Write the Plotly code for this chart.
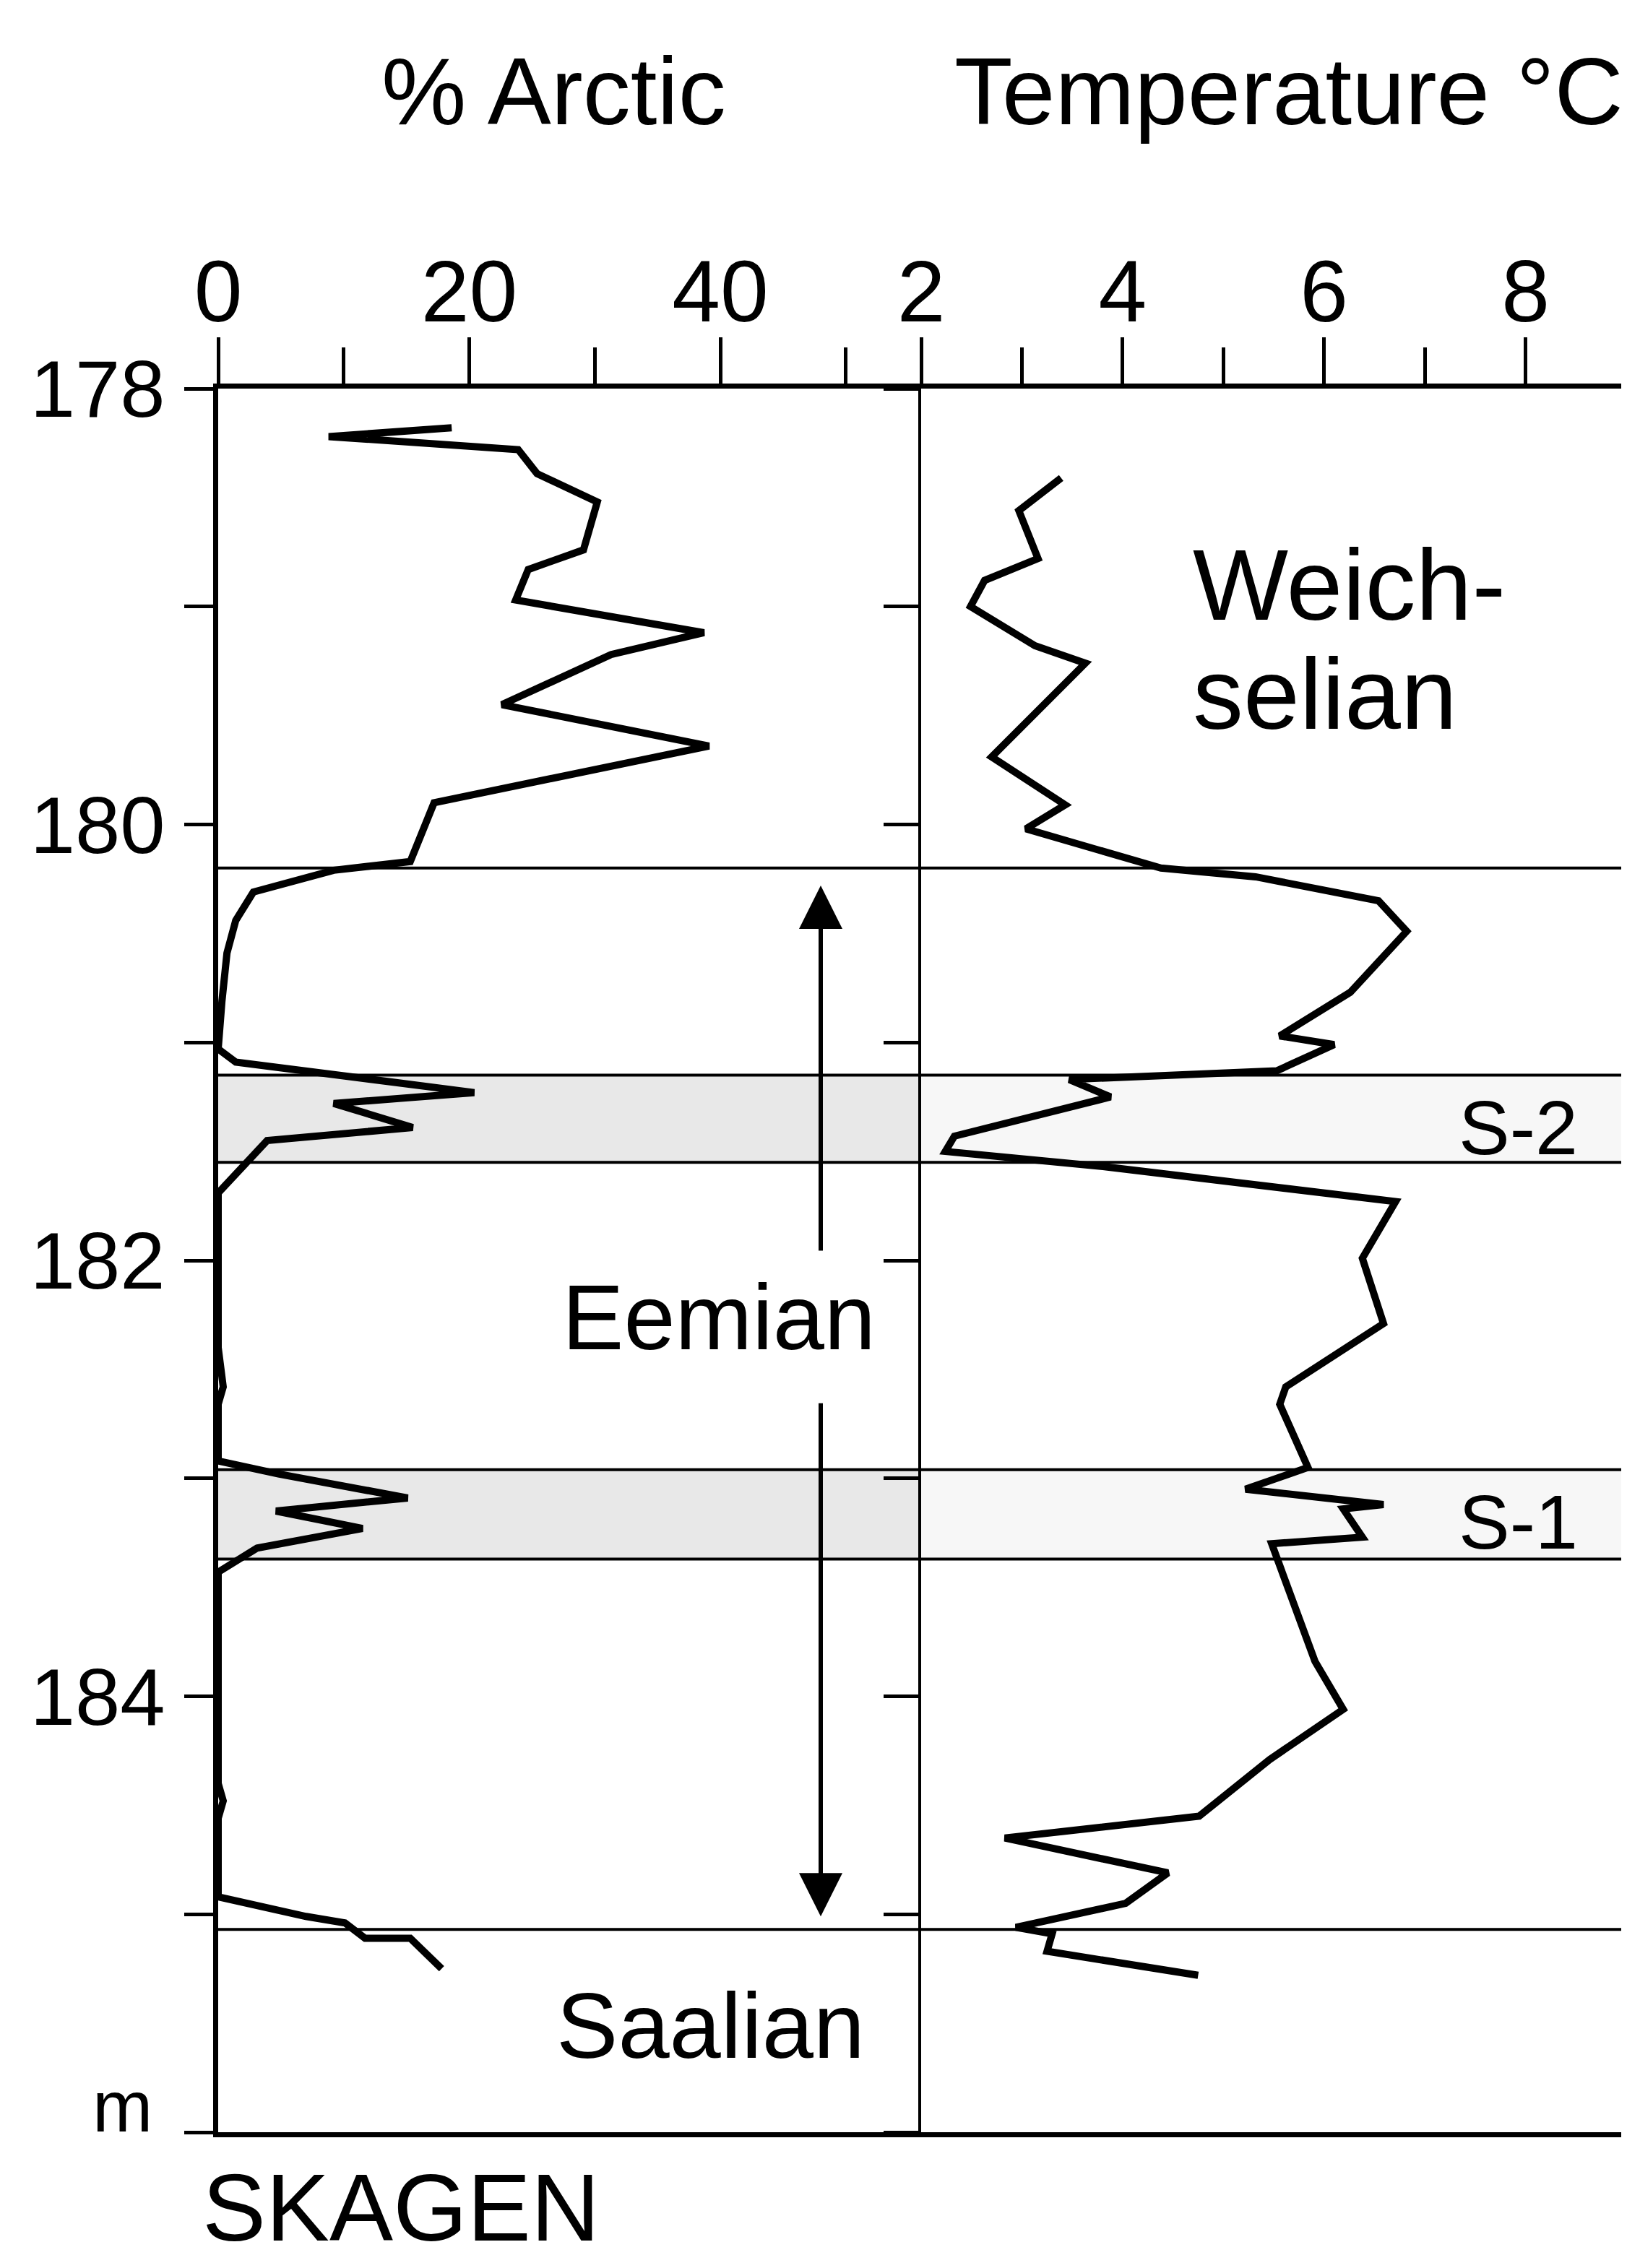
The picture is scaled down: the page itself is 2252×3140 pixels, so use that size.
import plotly.graph_objects as go

# ---------------- data ----------------
arctic_depth = [178.18, 178.22, 178.28, 178.39, 178.52, 178.74, 178.83, 178.97, 179.12, 179.22,
                179.45, 179.64, 179.90, 180.17, 180.21, 180.31, 180.44, 180.59, 180.81, 181.03,
                181.09, 181.13, 181.23, 181.28, 181.39, 181.45, 181.55, 181.69, 182.40, 182.58,
                182.66, 182.92, 182.98, 183.09, 183.15, 183.23, 183.32, 183.43, 184.40, 184.48,
                184.56, 184.92, 185.01, 185.04, 185.11, 185.11, 185.25]
arctic_pct = [18.6, 8.8, 23.9, 25.4, 30.2, 29.1, 24.7, 23.7, 38.7, 31.3,
              22.6, 39.1, 17.2, 15.3, 9.2, 2.8, 1.4, 0.7, 0.3, 0.0,
              1.4, 7.0, 20.4, 9.2, 15.5, 3.9, 2.2, 0.0, 0.0, 0.4,
              0.0, 0.0, 4.8, 15.1, 4.6, 11.5, 3.1, 0.0, 0.0, 0.4,
              0.0, 0.0, 7.0, 10.1, 11.7, 15.3, 17.8]

temp_depth = [178.41, 178.56, 178.78, 178.88, 179.00, 179.18, 179.26, 179.69, 179.91, 180.02,
              180.20, 180.24, 180.35, 180.49, 180.77, 180.97, 181.01, 181.13, 181.17, 181.25,
              181.43, 181.50, 181.57, 181.73, 181.99, 182.29, 182.58, 182.66, 182.95, 183.05,
              183.12, 183.14, 183.27, 183.30, 183.84, 184.06, 184.29, 184.55, 184.65, 184.81,
              184.95, 185.06, 185.09, 185.17, 185.28]
temp_c = [3.39, 2.97, 3.16, 2.63, 2.49, 3.13, 3.63, 2.70, 3.43, 3.04,
          4.38, 5.32, 6.54, 6.82, 6.26, 5.56, 6.10, 5.53, 3.47, 3.88,
          2.33, 2.24, 3.82, 6.71, 6.38, 6.59, 5.62, 5.56, 5.84, 5.22,
          6.59, 6.19, 6.38, 5.48, 5.91, 6.19, 5.46, 4.76, 2.83, 4.45,
          4.03, 2.94, 3.30, 3.25, 4.75]

# stage boundaries (m) and shaded stadial bands
boundaries = [180.20, 181.15, 181.55, 182.96, 183.37, 185.07]
bands = [(181.15, 181.55, "S-2", 181.39), (182.96, 183.37, "S-1", 183.20)]

depth_ticks = [178, 179, 180, 181, 182, 183, 184, 185, 186]
depth_labels = ["178", "", "180", "", "182", "", "184", "", ""]

# ---------------- layout constants ----------------
W, H = 2252, 3140
ML, MR, MT, MB = 294, 9, 530, 196
PW, PH = W - ML - MR, H - MT - MB
SPLIT = (1267 - ML) / PW
FONT = "Liberation Sans Narrow, Arial Narrow, Liberation Sans, Arial, sans-serif"
BIG = 132
TICK = 120
YTICK = 112


def px_x(v):
    return (v - ML) / PW


def px_y(v):
    return (H - MB - v) / PH


fig = go.Figure()

fig.add_trace(go.Scatter(x=arctic_pct, y=arctic_depth, mode="lines",
                         line=dict(color="black", width=10), xaxis="x", yaxis="y",
                         showlegend=False, hoverinfo="skip"))
fig.add_trace(go.Scatter(x=temp_c, y=temp_depth, mode="lines",
                         line=dict(color="black", width=10), xaxis="x2", yaxis="y2",
                         showlegend=False, hoverinfo="skip"))

shapes = []
for y0, y1, _, _ in bands:
    shapes.append(dict(type="rect", xref="paper", yref="y", x0=0, x1=SPLIT, y0=y0, y1=y1,
                       fillcolor="#e8e8e8", line=dict(width=0), layer="below"))
    shapes.append(dict(type="rect", xref="paper", yref="y", x0=SPLIT, x1=1, y0=y0, y1=y1,
                       fillcolor="#f7f7f7", line=dict(width=0), layer="below"))
for b in boundaries:
    shapes.append(dict(type="line", xref="paper", yref="y", x0=0, x1=1, y0=b, y1=b,
                       line=dict(color="black", width=4), layer="below"))

annotations = [
    dict(text="% Arctic", xref="paper", yref="paper", x=px_x(758), y=px_y(118),
         xanchor="center", yanchor="middle", showarrow=False, font=dict(size=BIG)),
    dict(text="Temperature °C", xref="paper", yref="paper", x=px_x(1776), y=px_y(118),
         xanchor="center", yanchor="middle", showarrow=False, font=dict(size=BIG)),
    dict(text="Weich-", xref="x2", yref="y", x=4.68, y=178.90, xanchor="left",
         yanchor="middle", showarrow=False, font=dict(size=140)),
    dict(text="selian", xref="x2", yref="y", x=4.68, y=179.40, xanchor="left",
         yanchor="middle", showarrow=False, font=dict(size=140)),
    dict(text="Eemian", xref="x", yref="y", x=39.9, y=182.26, xanchor="center",
         yanchor="middle", showarrow=False, font=dict(size=128)),
    dict(text="Saalian", xref="x", yref="y", x=39.25, y=185.51, xanchor="center",
         yanchor="middle", showarrow=False, font=dict(size=128)),
    dict(text="SKAGEN", xref="paper", yref="paper", x=px_x(270), y=px_y(3048),
         xanchor="left", yanchor="middle", showarrow=False, font=dict(size=132)),
    dict(text="m", xref="paper", yref="y", x=px_x(205), y=186,
         xanchor="right", yanchor="bottom", yshift=-22, showarrow=False,
         font=dict(size=100)),
]
for _, _, lab, yc in bands:
    annotations.append(dict(text=lab, xref="x2", yref="y", x=7.93, y=yc, xanchor="center",
                            yanchor="middle", showarrow=False, font=dict(size=106)))

# Eemian double arrow (two arrows with a gap for the label)
ARROW_X = 48.0
annotations.append(dict(text="", x=ARROW_X, y=180.28, ax=ARROW_X, ay=181.96,
                        xref="x", yref="y", axref="x", ayref="y", showarrow=True,
                        arrowhead=2, arrowsize=2, arrowwidth=6, arrowcolor="black", standoff=0))
annotations.append(dict(text="", x=ARROW_X, y=185.01, ax=ARROW_X, ay=182.65,
                        xref="x", yref="y", axref="x", ayref="y", showarrow=True,
                        arrowhead=2, arrowsize=2, arrowwidth=6, arrowcolor="black", standoff=0))

axis_common = dict(showgrid=False, zeroline=False, color="black", automargin=False,
                   linecolor="black", tickcolor="black")

fig.update_layout(
    width=W, height=H,
    margin=dict(l=ML, r=MR, t=MT, b=MB, pad=0, autoexpand=False),
    paper_bgcolor="white", plot_bgcolor="white",
    font=dict(family=FONT, color="black", size=TICK),
    shapes=shapes, annotations=annotations, showlegend=False,
    xaxis=dict(domain=[0, SPLIT], anchor="y", side="top", range=[0, 56],
               tickmode="linear", tick0=0, dtick=20, ticks="outside", ticklen=64,
               tickwidth=5, showline=True, linewidth=7, mirror=True,
               tickfont=dict(size=TICK), ticklabelstandoff=-26,
               minor=dict(tickmode="linear", tick0=0, dtick=10, ticks="outside",
                          ticklen=50, tickwidth=5, tickcolor="black"),
               **axis_common),
    xaxis2=dict(domain=[SPLIT, 1], anchor="y2", side="top", range=[2, 9],
                tickmode="linear", tick0=2, dtick=2, ticks="outside", ticklen=64,
                tickwidth=5, showline=True, linewidth=7, mirror=True,
                tickfont=dict(size=TICK), ticklabelstandoff=-26,
                minor=dict(tickmode="linear", tick0=2, dtick=1, ticks="outside",
                           ticklen=50, tickwidth=5, tickcolor="black"),
                **axis_common),
    yaxis=dict(domain=[0, 1], anchor="x", range=[186, 178], tickmode="array",
               tickvals=depth_ticks, ticktext=depth_labels, ticks="outside",
               ticklen=40, tickwidth=5, showline=True, linewidth=7,
               tickfont=dict(size=YTICK), ticklabelstandoff=4, **axis_common),
    yaxis2=dict(domain=[0, 1], anchor="x2", matches="y", range=[186, 178],
                tickmode="array", tickvals=depth_ticks, ticks="outside", ticklen=48,
                tickwidth=5, showline=True, linewidth=4, mirror=True,
                showticklabels=False, **axis_common),
)

fig.write_html("out.html")
